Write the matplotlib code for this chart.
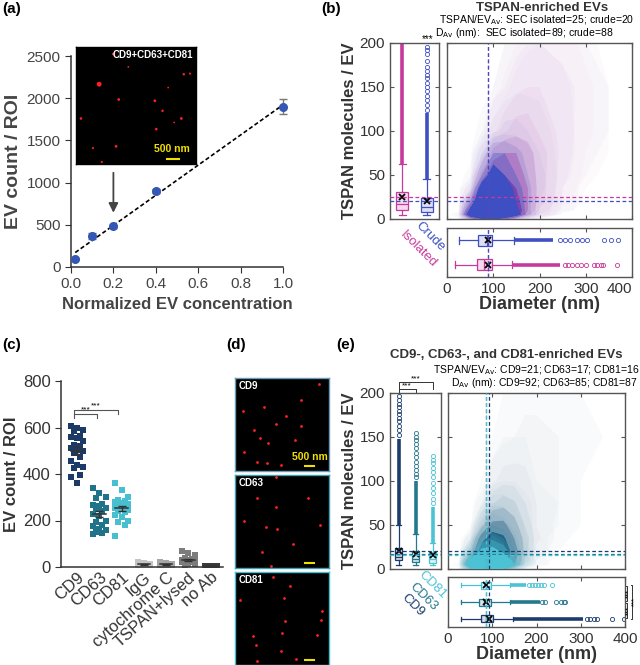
import numpy as np
import matplotlib
matplotlib.use('Agg')
import matplotlib.pyplot as plt
from matplotlib.colors import to_rgba

plt.rcParams['font.family'] = ['Liberation Sans', 'DejaVu Sans']

W, H = 640, 665

# ---------------- data ----------------
# (a) EV count vs concentration
conc = [0.02, 0.1, 0.2, 0.4, 1.0]
count = [100, 370, 480, 900, 1900]
count_err = [10, 35, 15, 20, 90]

# microscopy dots (fraction of image width / height from top), brightness
a_dot_x = [0.31, 0.193, 0.436, 0.898, 0.950, 0.768, 0.356, 0.657, 0.721, 0.041, 0.878, 0.818, 0.669, 0.141, 0.334, 0.215]
a_dot_y = [0.06, 0.318, 0.170, 0.233, 0.227, 0.347, 0.449, 0.460, 0.545, 0.611, 0.611, 0.645, 0.702, 0.864, 0.849, 0.983]
a_dot_b = [0.8, 3.0, 0.4, 0.8, 0.6, 0.4, 1.0, 1.0, 0.8, 0.9, 1.0, 0.4, 0.9, 0.6, 1.0, 0.6]

# (b) TSPAN-enriched
b_names = ['Isolated', 'Crude']
b_tspan_mean = [25, 20]
b_diam_mean = [89, 88]
b_t_q1 = [10, 8]
b_t_med = [17, 14]
b_t_q3 = [31, 24]
b_t_lo = [4, 4]
b_t_hi = [62, 45]
b_t_dense = [(62, 200), (45, 120)]
b_t_sparse = [[], [124, 130, 135, 140, 145, 150, 155, 160, 164, 168, 173, 179, 187, 192, 196]]
b_d_q1 = [65, 68]
b_d_med = [81, 86]
b_d_q3 = [97, 97]
b_d_lo = [18, 27]
b_d_hi = [140, 144]
b_d_dense = [(140, 244), (144, 230)]
b_d_sparse = [[255, 262, 270, 280, 290, 300, 318, 325, 332, 338, 368],
              [244, 255, 266, 280, 291, 302, 339, 355, 370]]

# density of scatter cloud (0..1) at grid nodes
dens_d = [0, 25, 50, 75, 100, 125, 150, 175, 200, 250, 300, 350, 400]
dens_t = [0, 5, 10, 20, 35, 50, 75, 100, 150, 200]
b_dens_iso = [
    [0, 0, 0.3, 0.6, 0.7, 0.5, 0.2, 0.05, 0, 0, 0, 0, 0],
    [0, 0, 0.8, 1, 1, 1, 0.8, 0.3, 0.1, 0, 0, 0, 0],
    [0, 0, 0.6, 1, 1, 1, 0.8, 0.4, 0.15, 0.02, 0, 0, 0],
    [0, 0, 0.3, 0.9, 1, 1, 0.7, 0.4, 0.2, 0.05, 0, 0, 0],
    [0, 0, 0.05, 0.6, 0.9, 0.9, 0.6, 0.4, 0.2, 0.06, 0.01, 0, 0],
    [0, 0, 0, 0.3, 0.6, 0.6, 0.5, 0.35, 0.2, 0.07, 0.02, 0, 0],
    [0, 0, 0, 0.05, 0.3, 0.4, 0.4, 0.3, 0.2, 0.08, 0.03, 0.01, 0],
    [0, 0, 0, 0.01, 0.08, 0.15, 0.2, 0.2, 0.15, 0.08, 0.04, 0.01, 0],
    [0, 0, 0, 0, 0.01, 0.04, 0.08, 0.1, 0.1, 0.07, 0.04, 0.01, 0],
    [0, 0, 0, 0, 0, 0.01, 0.03, 0.05, 0.06, 0.05, 0.02, 0, 0]]
b_dens_crude = [
    [0, 0, 0.3, 0.6, 0.7, 0.5, 0.2, 0.05, 0, 0, 0, 0, 0],
    [0, 0.05, 0.9, 1, 1, 1, 0.8, 0.3, 0.1, 0, 0, 0, 0],
    [0, 0, 0.7, 1, 1, 1, 0.7, 0.3, 0.1, 0.02, 0, 0, 0],
    [0, 0, 0.4, 1, 1, 0.95, 0.6, 0.3, 0.1, 0.03, 0, 0, 0],
    [0, 0, 0.1, 0.8, 1, 0.85, 0.5, 0.3, 0.12, 0.03, 0, 0, 0],
    [0, 0, 0.02, 0.4, 0.8, 0.6, 0.4, 0.25, 0.12, 0.04, 0.01, 0, 0],
    [0, 0, 0, 0.15, 0.4, 0.4, 0.3, 0.2, 0.1, 0.04, 0.02, 0, 0],
    [0, 0, 0, 0.02, 0.08, 0.12, 0.12, 0.1, 0.08, 0.04, 0.02, 0.01, 0],
    [0, 0, 0, 0, 0.01, 0.03, 0.05, 0.05, 0.05, 0.04, 0.02, 0.01, 0],
    [0, 0, 0, 0, 0, 0.01, 0.02, 0.03, 0.03, 0.02, 0.01, 0, 0]]

# (c) EV count per antibody
c_cats = ['CD9', 'CD63', 'CD81', 'IgG', 'cytochrome C', 'TSPAN+lysed', 'no Ab']
c_vals = [
    [605, 600, 590, 585, 565, 560, 555, 540, 525, 520, 510, 505, 500, 490, 475, 455, 440, 430, 425, 395, 385, 360],
    [340, 320, 300, 295, 270, 262, 255, 240, 230, 200, 195, 180, 175, 165, 160, 150, 145, 140, 250, 265, 220],
    [360, 330, 300, 290, 285, 280, 275, 270, 265, 260, 255, 250, 245, 240, 235, 225, 215, 200, 195, 180, 135],
    [5, 8, 10, 12, 15, 18, 10, 7, 12, 20],
    [5, 8, 10, 12, 15, 18, 20, 10, 8],
    [10, 15, 20, 25, 30, 35, 40, 50, 60, 70, 20, 15, 25, 30],
    [1, 2, 3, 4, 5, 6, 2, 3]]

# (d) dots in the three images
d_labels = ['CD9', 'CD63', 'CD81']
d_dot_x = [
    [0.894, 0.081, 0.304, 0.707, 0.541, 0.438, 0.703, 0.201, 0.265, 0.633, 0.350, 0.099, 0.237, 0.339, 0.488],
    [0.431, 0.237, 0.774, 0.438, 0.095, 0.325, 0.452, 0.905, 0.615, 0.283, 0.378],
    [0.406, 0.590, 0.053, 0.516, 0.929, 0.915, 0.534, 0.191, 0.505, 0.873, 0.219, 0.488, 0.647, 0.233]]
d_dot_y = [
    [0.061, 0.354, 0.307, 0.235, 0.404, 0.498, 0.520, 0.560, 0.650, 0.668, 0.704, 0.801, 0.903, 0.913, 0.931],
    [0.025, 0.242, 0.245, 0.339, 0.491, 0.563, 0.585, 0.538, 0.744, 0.830, 0.975],
    [0.054, 0.154, 0.304, 0.282, 0.418, 0.511, 0.525, 0.689, 0.657, 0.679, 0.789, 0.846, 0.932, 0.957]]

# (e) CD9/CD63/CD81-enriched
e_names = ['CD9', 'CD63', 'CD81']
e_tspan_mean = [21, 17, 16]
e_diam_mean = [92, 85, 87]
e_t_q1 = [10, 7.5, 7]
e_t_med = [14, 11, 11]
e_t_q3 = [24, 20, 19]
e_t_lo = [4, 4, 4]
e_t_hi = [50, 40, 30]
e_t_dense = [(50, 148), (40, 100), (30, 71)]
e_t_sparse = [[152, 158, 163, 168, 172, 176, 180, 184, 188, 192, 197],
              [104, 108, 112, 117, 122, 127, 132, 137, 142, 147, 150, 155],
              [75, 80, 86, 92, 98, 104, 110, 115, 120, 124, 128]]
e_d_q1 = [75, 69, 74]
e_d_med = [89, 81, 85]
e_d_q3 = [102, 97, 97]
e_d_lo = [30, 30, 30]
e_d_hi = [146, 140, 140]
e_d_dense = [(146, 306), (140, 207), (140, 177)]
e_d_sparse = [[313, 320, 330, 337, 370, 398],
              [213, 220, 245, 255, 262, 265],
              [183, 190, 196, 203, 210, 218, 235]]
e_dens = [
    [[0, 0, 0.2, 0.4, 0.4, 0.3, 0.1, 0, 0, 0, 0, 0, 0],
     [0, 0, 0.5, 0.8, 0.8, 0.7, 0.4, 0.1, 0.02, 0, 0, 0, 0],
     [0, 0, 0.4, 0.8, 0.85, 0.75, 0.45, 0.15, 0.03, 0, 0, 0, 0],
     [0, 0, 0.2, 0.75, 0.9, 0.8, 0.5, 0.2, 0.05, 0.01, 0, 0, 0],
     [0, 0, 0.05, 0.5, 0.75, 0.65, 0.4, 0.2, 0.07, 0.02, 0, 0, 0],
     [0, 0, 0, 0.2, 0.45, 0.45, 0.3, 0.15, 0.06, 0.02, 0.01, 0, 0],
     [0, 0, 0, 0.03, 0.15, 0.2, 0.17, 0.1, 0.06, 0.03, 0.01, 0, 0],
     [0, 0, 0, 0.01, 0.05, 0.08, 0.08, 0.07, 0.05, 0.03, 0.01, 0.01, 0],
     [0, 0, 0, 0, 0.01, 0.02, 0.03, 0.04, 0.04, 0.03, 0.02, 0.01, 0],
     [0, 0, 0, 0, 0, 0.01, 0.02, 0.02, 0.02, 0.02, 0.01, 0, 0]],
    [[0, 0, 0.2, 0.4, 0.4, 0.3, 0.1, 0, 0, 0, 0, 0, 0],
     [0, 0, 0.5, 0.8, 0.8, 0.6, 0.3, 0.05, 0, 0, 0, 0, 0],
     [0, 0, 0.4, 0.8, 0.8, 0.6, 0.3, 0.08, 0.01, 0, 0, 0, 0],
     [0, 0, 0.15, 0.6, 0.7, 0.5, 0.25, 0.08, 0.02, 0, 0, 0, 0],
     [0, 0, 0.02, 0.3, 0.45, 0.35, 0.2, 0.06, 0.02, 0, 0, 0, 0],
     [0, 0, 0, 0.1, 0.25, 0.2, 0.12, 0.05, 0.02, 0.01, 0, 0, 0],
     [0, 0, 0, 0.02, 0.08, 0.08, 0.06, 0.04, 0.02, 0.01, 0, 0, 0],
     [0, 0, 0, 0, 0.02, 0.03, 0.03, 0.02, 0.01, 0.01, 0, 0, 0],
     [0, 0, 0, 0, 0, 0.01, 0.01, 0.01, 0.01, 0, 0, 0, 0],
     [0, 0, 0, 0, 0, 0, 0, 0, 0, 0, 0, 0, 0]],
    [[0, 0, 0.5, 0.8, 0.8, 0.6, 0.3, 0.05, 0, 0, 0, 0, 0],
     [0, 0.05, 0.9, 1, 1, 1, 0.6, 0.15, 0.02, 0, 0, 0, 0],
     [0, 0, 0.7, 1, 1, 0.95, 0.5, 0.15, 0.02, 0, 0, 0, 0],
     [0, 0, 0.2, 0.7, 0.75, 0.55, 0.25, 0.06, 0.01, 0, 0, 0, 0],
     [0, 0, 0.02, 0.25, 0.35, 0.25, 0.1, 0.03, 0, 0, 0, 0, 0],
     [0, 0, 0, 0.06, 0.12, 0.1, 0.05, 0.02, 0, 0, 0, 0, 0],
     [0, 0, 0, 0.01, 0.03, 0.03, 0.02, 0.01, 0, 0, 0, 0, 0],
     [0, 0, 0, 0, 0, 0, 0, 0, 0, 0, 0, 0, 0],
     [0, 0, 0, 0, 0, 0, 0, 0, 0, 0, 0, 0, 0],
     [0, 0, 0, 0, 0, 0, 0, 0, 0, 0, 0, 0, 0]]]

# ---------------- style ----------------
DARK = '#333333'
FRAME = '#555555'
BLUE_A = '#3457b5'
B_COLORS = ['#c8399c', '#3d4fc2']
E_COLORS = ['#1c3d6c', '#24788e', '#4cc3d5']
C_COLORS = ['#1b3a66', '#1f7489', '#47bfd1', '#c4c4c4', '#a6a6a6', '#7c7c7c', '#3a3a3a']
D_EDGES = ['#6a9ab8', '#3f9fb0', '#45bfd0']
YEL = '#f0e000'
LEVELS = [0.01, 0.03, 0.06, 0.1, 0.16, 0.25, 0.4, 0.6, 1.01]
LEVEL_ALPHA = [0.025, 0.05, 0.08, 0.12, 0.18, 0.3, 0.55, 1.0]


def rect(x0, y0, x1, y1):
    return [x0 / W, 1 - y1 / H, (x1 - x0) / W, (y1 - y0) / H]


def fig_xy(x, y):
    return x / W, 1 - y / H


fig = plt.figure(figsize=(6.4, 6.65), dpi=100)


def micro(ax, xs, ys, bright=None, bcol=None):
    # black fluorescence image; y measured from the top
    ax.set_facecolor('black')
    ax.set_xlim(0, 1)
    ax.set_ylim(1, 0)
    ax.set_xticks([])
    ax.set_yticks([])
    sizes = 4 if bright is None else np.array(bright) * 4
    ax.scatter(xs, ys, s=sizes, color='#ff2020', linewidths=0)
    for s in ax.spines.values():
        s.set_color(bcol if bcol else 'black')
        s.set_linewidth(1.0)


def frame(ax):
    for s in ax.spines.values():
        s.set_color(FRAME)
        s.set_linewidth(1.0)
    ax.tick_params(direction='in', length=3, color=FRAME, labelcolor=DARK,
                   labelsize=11, top=True, right=True)


def cloud(ax, dens, color, z):
    cols = [to_rgba(color, a) for a in LEVEL_ALPHA]
    ax.contourf(dens_d, dens_t, np.array(dens), levels=LEVELS, colors=cols, zorder=z,
                antialiased=True)


def boxes(ax, q1, med, q3, lo, hi, means, dense, sparse, colors, horizontal, width):
    for i in range(len(q1)):
        c = colors[i]
        st = dict(q1=q1[i], med=med[i], q3=q3[i], whislo=lo[i], whishi=hi[i],
                  mean=means[i], fliers=[])
        pos = i + 1
        ax.bxp([st], positions=[pos], widths=width,
               orientation='horizontal' if horizontal else 'vertical',
               showmeans=True, showfliers=False, patch_artist=True, capwidths=width * 0.6,
               boxprops=dict(facecolor=to_rgba(c, 0.18), edgecolor=c, linewidth=0.9),
               medianprops=dict(color=c, linewidth=0.9),
               whiskerprops=dict(color=c, linewidth=0.9),
               capprops=dict(color=c, linewidth=0.9),
               meanprops=dict(marker='x', markeredgecolor='black', markersize=4.5,
                              markeredgewidth=1.3), zorder=3)
        d0, d1 = dense[i]
        sp = sparse[i]
        if horizontal:
            ax.plot([d0, d1], [pos, pos], color=c, lw=2.6, solid_capstyle='butt', zorder=2)
            ax.plot(sp, [pos] * len(sp), 'o', mfc='none', mec=c, ms=3, mew=0.6, zorder=2)
        else:
            ax.plot([pos, pos], [d0, d1], color=c, lw=2.6, solid_capstyle='butt', zorder=2)
            ax.plot([pos] * len(sp), sp, 'o', mfc='none', mec=c, ms=3, mew=0.6, zorder=2)


def panel_scatter(box_r, sc_r, hb_r, dens_list, colors, names, t_stats, d_stats,
                  tmeans, dmeans, vwidth, hwidth, label_pos):
    axb = fig.add_axes(rect(*box_r))
    axs = fig.add_axes(rect(*sc_r))
    axh = fig.add_axes(rect(*hb_r))
    n = len(colors)
    for ax in (axb, axs, axh):
        frame(ax)
    for i in range(n):
        cloud(axs, dens_list[i], colors[i], 1 + i)
    q1, med, q3, lo, hi, dense, sparse = t_stats
    boxes(axb, q1, med, q3, lo, hi, tmeans, dense, sparse, colors, False, vwidth)
    q1, med, q3, lo, hi, dense, sparse = d_stats
    boxes(axh, q1, med, q3, lo, hi, dmeans, dense, sparse, colors, True, hwidth)
    for i in range(n):
        for ax in (axb, axs):
            ax.axhline(tmeans[i], color=colors[i], ls=(0, (3, 2)), lw=0.9, zorder=5)
        for ax in (axs, axh):
            ax.axvline(dmeans[i], color=colors[i], ls=(0, (3, 2)), lw=0.9, zorder=5)
    axb.set_xlim(0.5, n + 0.5)
    axb.set_ylim(0, 200)
    axb.set_xticks([])
    axb.set_yticks([0, 50, 100, 150, 200])
    axb.tick_params(top=False)
    axb.set_ylabel('TSPAN molecules / EV', fontsize=12, fontweight='bold', color=DARK,
                   labelpad=2)
    axs.set_xlim(0, 400)
    axs.set_ylim(0, 200)
    axs.set_xticks([0, 100, 200, 300, 400])
    axs.set_yticks([0, 50, 100, 150, 200])
    axs.tick_params(labelleft=False, labelbottom=False)
    axh.set_xlim(0, 400)
    axh.set_ylim(0.5, n + 0.5)
    axh.set_yticks([])
    axh.set_xticks([0, 100, 200, 300, 400])
    axh.tick_params(right=False, labelsize=11)
    axh.set_xlabel('Diameter (nm)', fontsize=13, fontweight='bold', color=DARK, labelpad=0)
    for name, c, (px, py) in zip(names, colors, label_pos):
        x, y = fig_xy(px, py)
        fig.text(x, y, name, color=c, fontsize=9.5, rotation=-45, rotation_mode='anchor',
                 ha='left', va='center')
    return axb, axs, axh


# ---------------- (a) ----------------
axA = fig.add_axes(rect(71, 56, 283, 267))
fit = np.polyfit(conc, count, 1)
fx = np.array([conc[0], conc[-1]])
axA.plot(fx, np.polyval(fit, fx), ls=(0, (2.5, 1.5)), color='black', lw=1.2, zorder=2)
axA.errorbar(conc, count, yerr=count_err, fmt='o', color=BLUE_A, ecolor='#777777',
             elinewidth=1, capsize=3, ms=5.5, zorder=3, clip_on=False)
axA.annotate('', xy=(0.2, 610), xytext=(0.2, 1150),
             arrowprops=dict(arrowstyle='-|>', color='#444444', lw=1.3, mutation_scale=14))
axA.set_xlim(0, 1.0)
axA.set_ylim(0, 2500)
axA.set_xticks([0, 0.2, 0.4, 0.6, 0.8, 1.0])
axA.set_yticks([0, 500, 1000, 1500, 2000, 2500])
axA.xaxis.set_major_formatter(plt.FuncFormatter(lambda v, p: f'{v:.1f}'))
for s in ('top', 'right'):
    axA.spines[s].set_visible(False)
for s in ('left', 'bottom'):
    axA.spines[s].set_color(DARK)
    axA.spines[s].set_linewidth(1.1)
axA.tick_params(direction='out', length=4, color=DARK, labelcolor='#444444', labelsize=11)
axA.set_xlabel('Normalized EV concentration', fontsize=12, fontweight='bold', color='#444444')
axA.set_ylabel('EV count / ROI', fontsize=14, fontweight='bold', color='#444444', labelpad=3)

axAi = fig.add_axes(rect(76, 47, 196, 164))
micro(axAi, a_dot_x, a_dot_y, a_dot_b)
axAi.text(0.98, 0.07, 'CD9+CD63+CD81', color='white', fontsize=7, fontweight='bold',
          ha='right', va='center')
axAi.text(0.80, 0.87, '500 nm', color=YEL, fontsize=7.5, fontweight='bold',
          ha='center', va='center')
axAi.plot([0.76, 0.86], [0.955, 0.955], color=YEL, lw=1.5)

# ---------------- (b) ----------------
axBb, axBs, axBh = panel_scatter(
    (390, 43, 439, 219), (447, 43, 632, 219), (447, 228, 632, 277),
    [b_dens_iso, b_dens_crude], B_COLORS, b_names,
    (b_t_q1, b_t_med, b_t_q3, b_t_lo, b_t_hi, b_t_dense, b_t_sparse),
    (b_d_q1, b_d_med, b_d_q3, b_d_lo, b_d_hi, b_d_dense, b_d_sparse),
    b_tspan_mean, b_diam_mean, 0.5, 0.45, [(402, 233), (417, 224)])
axBh.get_xticklabels()[-1].set_horizontalalignment('right')
fig.text(*fig_xy(428, 39), '***', fontsize=7, ha='center', va='center', color='black')
fig.text(*fig_xy(542, 8), 'TSPAN-enriched EVs', fontsize=9.5, fontweight='bold',
         ha='center', va='center', color=DARK)
fig.text(*fig_xy(634, 20), r'TSPAN/EV$_{\mathrm{Av}}$: SEC isolated=%d; crude=%d' % tuple(b_tspan_mean),
         fontsize=7.5, ha='right', va='center', color='black')
fig.text(*fig_xy(435, 33), r'D$_{\mathrm{Av}}$ (nm):  SEC isolated=%d; crude=%d' % tuple(b_diam_mean),
         fontsize=7.5, ha='left', va='center', color='black')

# ---------------- (c) ----------------
axC = fig.add_axes(rect(61, 381, 223, 567))
offs = [-0.28, -0.14, 0.0, 0.14, 0.28]
for i, vals in enumerate(c_vals):
    v = np.sort(np.array(vals))[::-1]
    xs = [i + offs[(k * 2) % 5] for k in range(len(v))]
    axC.scatter(xs, v, marker='s', s=14, color=C_COLORS[i], linewidths=0, zorder=2)
    m = np.mean(v)
    sem = np.std(v, ddof=1) / np.sqrt(len(v))
    axC.plot([i - 0.28, i + 0.28], [m, m], color='#333333', lw=1.1, zorder=3)
    axC.errorbar([i], [m], yerr=[sem], fmt='none', ecolor='#333333', elinewidth=1,
                 capsize=3, zorder=3)
axC.set_xlim(-0.72, 6.55)
axC.set_ylim(0, 800)
axC.set_yticks([0, 200, 400, 600, 800])
axC.set_xticks(range(len(c_cats)))
axC.set_xticklabels(c_cats, rotation=42, ha='right', rotation_mode='anchor', fontsize=11.5)
for s in ('top', 'right'):
    axC.spines[s].set_visible(False)
for s in ('left', 'bottom'):
    axC.spines[s].set_color(DARK)
    axC.spines[s].set_linewidth(1.1)
axC.tick_params(direction='out', length=4, color=DARK, labelcolor='#333333', labelsize=12)
axC.tick_params(axis='x', length=0, pad=2)
axC.set_ylabel('EV count / ROI', fontsize=12, fontweight='bold', color=DARK, labelpad=3)
for x1, yb, yt in ((0.9, 660, 643), (1.85, 674, 660)):
    axC.plot([-0.15, -0.15, x1, x1], [yt, yb, yb, yt], color='#555555', lw=0.8)
    axC.text((x1 - 0.15) / 2, yb + 2, '***', fontsize=6, ha='center', va='bottom')

# ---------------- (d) ----------------
for k, (yt, yb) in enumerate(((378, 471), (475, 568), (572, 665))):
    ax = fig.add_axes(rect(235, yt, 329, yb))
    micro(ax, d_dot_x[k], d_dot_y[k], bcol=D_EDGES[k])
    ax.text(0.04, 0.09, d_labels[k], color='white', fontsize=7, fontweight='bold',
            ha='left', va='center')
    ax.plot([0.74, 0.84], [0.95, 0.95], color=YEL, lw=1.5)
    if k == 0:
        ax.text(0.80, 0.85, '500 nm', color=YEL, fontsize=7.5, fontweight='bold',
                ha='center', va='center')

# ---------------- (e) ----------------
axEb, axEs, axEh = panel_scatter(
    (390, 393, 441, 569), (448, 393, 625, 569), (448, 577, 625, 627),
    e_dens, E_COLORS, e_names,
    (e_t_q1, e_t_med, e_t_q3, e_t_lo, e_t_hi, e_t_dense, e_t_sparse),
    (e_d_q1, e_d_med, e_d_q3, e_d_lo, e_d_hi, e_d_dense, e_d_sparse),
    e_tspan_mean, e_diam_mean, 0.4, 0.42, [(403, 596), (411, 585), (420, 573)])
# brackets above left box
for x1, yb, yt in ((2, 204, 200.5), (3, 212, 204)):
    axEb.plot([1, 1, x1, x1], [yt, yb, yb, yt], color='#333333', lw=0.7, clip_on=False)
    axEb.text((1 + x1) / 2, yb, '***', fontsize=6, ha='center', va='bottom', clip_on=False)
# brackets right of bottom box
for xb, y0, y1, xt in ((404, 2.95, 2.05, 409), (404, 1.95, 1.05, 409), (416, 3, 1, 421)):
    axEh.plot([xb - 3, xb, xb, xb - 3], [y0, y0, y1, y1], color='#333333', lw=0.7,
              clip_on=False)
    axEh.text(xt, (y0 + y1) / 2, '***', fontsize=5.5, rotation=90, ha='center',
              va='center', clip_on=False)
fig.text(*fig_xy(506, 355), 'CD9-, CD63-, and CD81-enriched EVs', fontsize=9.5,
         fontweight='bold', ha='center', va='center', color=DARK)
fig.text(*fig_xy(639, 370), r'TSPAN/EV$_{\mathrm{Av}}$: CD9=%d; CD63=%d; CD81=%d' % tuple(e_tspan_mean),
         fontsize=7.5, ha='right', va='center', color='black')
fig.text(*fig_xy(638, 383), r'D$_{\mathrm{Av}}$ (nm): CD9=%d; CD63=%d; CD81=%d' % tuple(e_diam_mean),
         fontsize=7.5, ha='right', va='center', color='black')

# panel letters
for lab, px, py in (('(a)', 2, 9), ('(b)', 321, 9), ('(c)', 2, 345), ('(d)', 226, 345),
                    ('(e)', 336, 345)):
    fig.text(*fig_xy(px, py), lab, fontsize=11, fontweight='bold', ha='left', va='center')

fig.savefig('out.png', dpi=100)
